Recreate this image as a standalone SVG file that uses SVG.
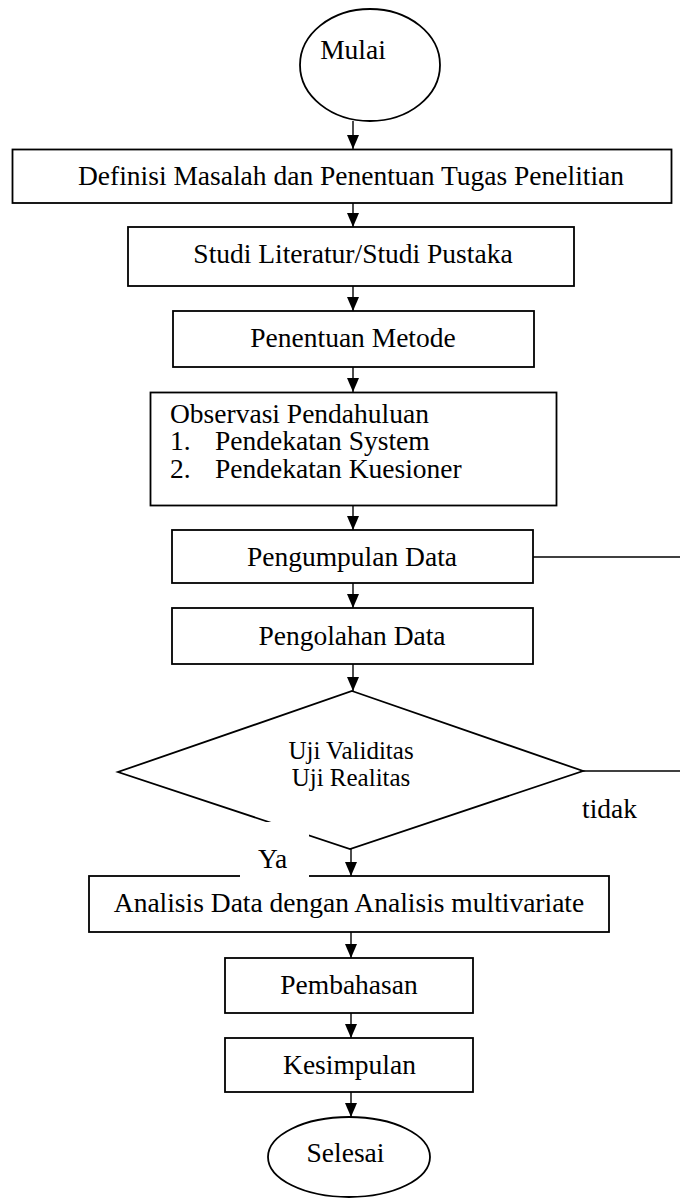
<svg xmlns="http://www.w3.org/2000/svg" width="680" height="1201" viewBox="0 0 680 1201">
<style>
.box{fill:#fff;stroke:#000;stroke-width:1.8}
.t{font-family:"Liberation Serif","Times New Roman",serif;font-size:27.5px;fill:#000}
.c{text-anchor:middle}
.ln{stroke:#000;stroke-width:1.4;fill:none}
</style>
<defs>
<marker id="ah" viewBox="0 0 14 12" refX="14" refY="6" markerWidth="14" markerHeight="12" markerUnits="userSpaceOnUse" orient="auto">
<path d="M0,0 L14,6 L0,12 z" fill="#000"/>
</marker>
</defs>
<rect width="680" height="1201" fill="#fff"/>
<g id="connectors">
<line class="ln" x1="353" y1="121" x2="353" y2="149" marker-end="url(#ah)"/>
<line class="ln" x1="353" y1="203" x2="353" y2="227" marker-end="url(#ah)"/>
<line class="ln" x1="353" y1="286" x2="353" y2="311" marker-end="url(#ah)"/>
<line class="ln" x1="353" y1="367" x2="353" y2="392" marker-end="url(#ah)"/>
<line class="ln" x1="353" y1="506" x2="353" y2="530" marker-end="url(#ah)"/>
<line class="ln" x1="353" y1="583" x2="353" y2="608" marker-end="url(#ah)"/>
<line class="ln" x1="353" y1="664" x2="353" y2="691" marker-end="url(#ah)"/>
<line class="ln" x1="351" y1="849" x2="351" y2="876" marker-end="url(#ah)"/>
<line class="ln" x1="351" y1="932" x2="351" y2="958" marker-end="url(#ah)"/>
<line class="ln" x1="351" y1="1013" x2="351" y2="1038" marker-end="url(#ah)"/>
<line class="ln" x1="351" y1="1092" x2="351" y2="1117" marker-end="url(#ah)"/>
<line class="ln" x1="533" y1="557" x2="680" y2="557"/>
<line class="ln" x1="583" y1="771" x2="680" y2="771"/>
</g>
<g id="mulai">
<ellipse class="box" cx="370" cy="65" rx="70" ry="56"/>
<text class="t c" x="353" y="59">Mulai</text>
</g>
<g id="definisi">
<rect class="box" x="12.5" y="149.5" width="659" height="53.5"/>
<text class="t c" x="351" y="185">Definisi Masalah dan Penentuan Tugas Penelitian</text>
</g>
<g id="studi">
<rect class="box" x="128" y="227" width="446" height="59"/>
<text class="t c" x="353" y="263">Studi Literatur/Studi Pustaka</text>
</g>
<g id="metode">
<rect class="box" x="173" y="311" width="361" height="56"/>
<text class="t c" x="353" y="347">Penentuan Metode</text>
</g>
<g id="observasi">
<rect class="box" x="150.5" y="392.5" width="406" height="113"/>
<text class="t" x="170" y="423">Observasi Pendahuluan</text>
<text class="t" x="170" y="450">1.</text>
<text class="t" x="215" y="450">Pendekatan System</text>
<text class="t" x="170" y="477.5">2.</text>
<text class="t" x="215" y="477.5">Pendekatan Kuesioner</text>
</g>
<g id="pengumpulan">
<rect class="box" x="172" y="530" width="361" height="53"/>
<text class="t c" x="352" y="566">Pengumpulan Data</text>
</g>
<g id="pengolahan">
<rect class="box" x="172" y="608" width="361" height="56"/>
<text class="t c" x="352" y="645">Pengolahan Data</text>
</g>
<g id="uji">
<polygon class="box" points="352,691 583,771 350,849 118,772"/>
<text class="t c" x="351" y="759" style="font-size:25px">Uji Validitas</text>
<text class="t c" x="351" y="786" style="font-size:25px">Uji Realitas</text>
<text class="t" x="582" y="818">tidak</text>
</g>
<g id="analisis">
<rect class="box" x="89" y="876" width="520" height="56"/>
<text class="t c" x="349" y="912">Analisis Data dengan Analisis multivariate</text>
</g>
<g id="ya">
<rect x="240" y="822" width="69" height="57" fill="#fff"/>
<text class="t" x="258" y="868">Ya</text>
</g>
<g id="pembahasan">
<rect class="box" x="225" y="958" width="248" height="55"/>
<text class="t c" x="349" y="994">Pembahasan</text>
</g>
<g id="kesimpulan">
<rect class="box" x="225" y="1038" width="248" height="54"/>
<text class="t c" x="349.5" y="1074">Kesimpulan</text>
</g>
<g id="selesai">
<ellipse class="box" cx="349" cy="1157" rx="81" ry="40"/>
<text class="t c" x="345.5" y="1162">Selesai</text>
</g>
</svg>
